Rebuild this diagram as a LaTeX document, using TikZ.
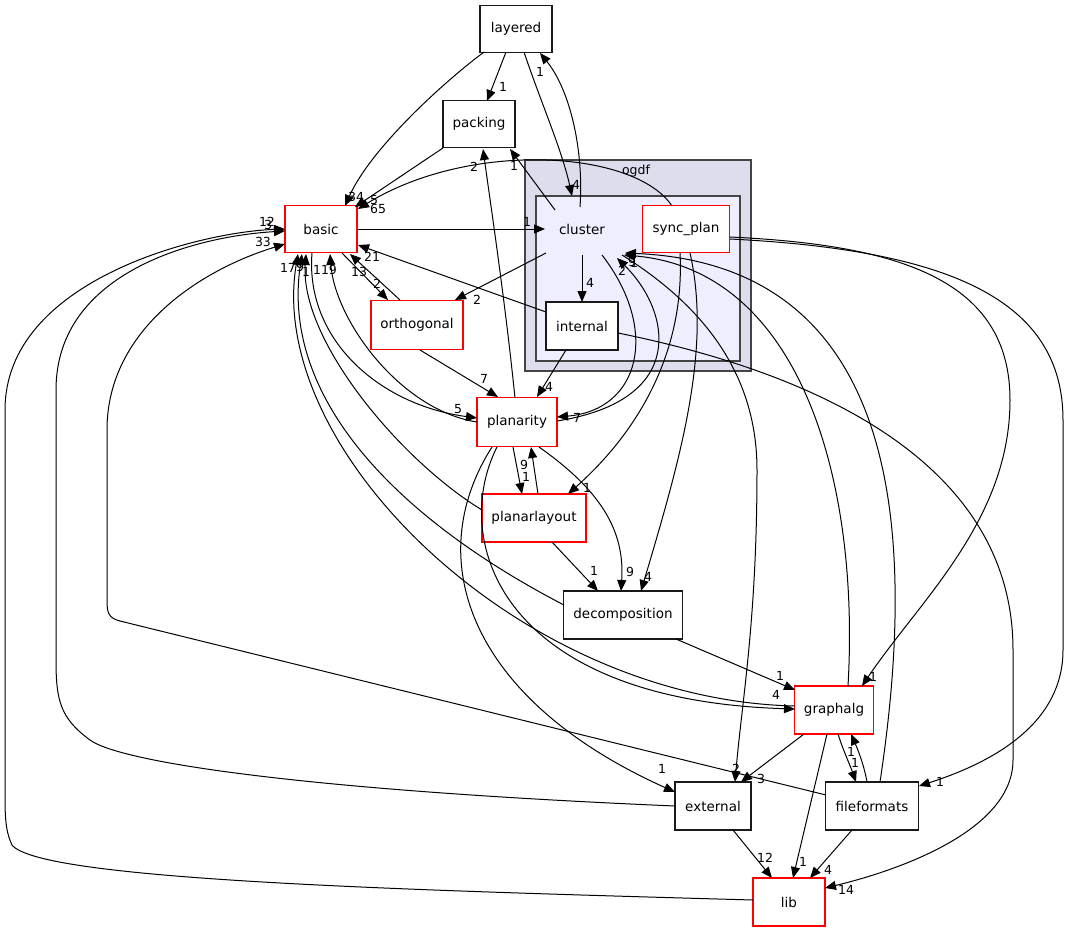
\documentclass[tikz,border=0pt]{standalone}
\usepackage{fontspec}
\setmainfont{DejaVu Sans}
\usetikzlibrary{arrows.meta,calc}
\definecolor{outerc}{HTML}{DDDDEE}
\definecolor{innerc}{HTML}{EEEEFF}
\definecolor{framec}{HTML}{444444}
\begin{document}
\begin{tikzpicture}[x=1pt,y=-1pt,
  dir/.style={draw=black!90,fill=white,line width=1.1pt,minimum height=47pt,inner sep=0pt,font=\fontsize{13.5}{15}\selectfont},
  rdir/.style={dir,draw=red,line width=1.3pt},
  lbl/.style={inner sep=0pt,font=\fontsize{12.5}{14}\selectfont},
  dep/.style={line width=1pt,-{Triangle[length=11pt,width=9pt]}}
]
\useasboundingbox (0,0) rectangle (1069,932);
% clusters
\draw[fill=outerc,draw=framec,line width=1.2pt] (525,160) rectangle (751,371);
\draw[fill=innerc,draw=framec,line width=1.2pt] (536,196) rectangle (740,361);
\node[lbl] (ogdflbl) at (636,171) {ogdf};
% nodes
\node[dir,minimum width=72pt] (L) at (516,29) {layered};
\node[dir,minimum width=72pt] (P) at (479,124) {packing};
\node[rdir,minimum width=72pt] (B) at (321,229) {basic};
\node[inner sep=0pt,font=\fontsize{13.5}{15}\selectfont] (C) at (582,229) {cluster};
\node[rdir,minimum width=87pt] (S) at (686,229) {sync\_plan};
\node[dir,minimum width=72pt,minimum height=48pt] (I) at (582,326) {internal};
\node[rdir,minimum width=92pt,minimum height=49pt] (O) at (417,325) {orthogonal};
\node[rdir,minimum width=80pt,minimum height=49pt] (PL) at (517,422) {planarity};
\node[rdir,minimum width=104pt,minimum height=48pt] (PY) at (534,518) {planarlayout};
\node[dir,minimum width=119pt,minimum height=48pt] (D) at (623,615) {decomposition};
\node[rdir,minimum width=79pt,minimum height=48pt] (G) at (834,710) {graphalg};
\node[dir,minimum width=76pt,minimum height=48pt] (E) at (713,806) {external};
\node[dir,minimum width=93pt,minimum height=48pt] (F) at (872,806) {fileformats};
\node[rdir,minimum width=72pt,minimum height=48pt] (Li) at (789,902) {lib};
% edges
\draw[dep] ($(L)+(-10,23)$) -- ($(P)+(8,-23)$);
\draw[dep] ($(L)+(-32,23)$) .. controls (440,85) and (370,150) .. ($(B)+(24,-23)$);
\draw[dep] ($(L)+(8,23)$) .. controls (540,100) and (562,150) .. ($(C)+(-10,-33)$);
\draw[dep] ($(C)+(-2,-22)$) .. controls (584,150) and (570,90) .. ($(L)+(24,24)$);
\draw[dep] ($(P)+(-36,24)$) -- ($(B)+(34,-22)$);
\draw[dep] ($(S)+(-14,-23)$) .. controls (635,150) and (470,140) .. ($(B)+(37,-20)$);
\draw[dep] ($(B)+(36,0)$) -- ($(C)+(-37,0)$);
\draw[dep] ($(C)+(-27,-19)$) -- ($(P)+(31,25)$);
\draw[dep] ($(PL)+(-2,-24)$) .. controls (505,300) and (490,200) .. ($(P)+(4,25)$);
\draw[dep] ($(C)+(-36,24)$) -- ($(O)+(38,-25)$);
\draw[dep] ($(C)+(0,26)$) -- ($(I)+(0,-24)$);
\draw[dep] ($(O)+(-17,-25)$) -- ($(B)+(29,25)$);
\draw[dep] ($(B)+(21,24)$) -- ($(O)+(-29,-25)$);
\draw[dep] ($(I)+(-36,-14)$) -- ($(B)+(37,16)$);
\draw[dep] ($(I)+(-16,24)$) -- ($(PL)+(20,-25)$);
\draw[dep] ($(O)+(3,25)$) -- ($(PL)+(-19,-25)$);
\draw[dep] ($(B)+(-9,24)$) .. controls (305,340) and (380,405) .. ($(PL)+(-40,-4)$);
\draw[dep] ($(PL)+(-40,0)$) .. controls (400,410) and (335,320) .. ($(B)+(9,25)$);
\draw[dep] ($(PY)+(-52,-8)$) .. controls (400,460) and (300,340) .. ($(B)+(-15,25)$);
\draw[dep] ($(D)+(-59,-10)$) .. controls (400,520) and (280,400) .. ($(B)+(-19,25)$);
\draw[dep] ($(G)+(-39,-4)$) .. controls (520,700) and (265,450) .. ($(B)+(-23,25)$);
\draw[dep] ($(PL)+(-20,25)$) .. controls (450,540) and (500,700) .. ($(G)+(-39,-1)$);
\draw[dep] ($(PL)+(-25,25)$) .. controls (420,560) and (470,700) .. ($(E)+(-38,-14)$);
\draw[dep] ($(PL)+(-4,25)$) -- ($(PY)+(-12,-24)$);
\draw[dep] ($(PY)+(4,-24)$) -- ($(PL)+(14,25)$);
\draw[dep] ($(S)+(-6,24)$) .. controls (685,350) and (640,430) .. ($(PY)+(34,-24)$);
\draw[dep] ($(S)+(4,24)$) .. controls (712,350) and (680,460) .. ($(D)+(18,-24)$);
\draw[dep] ($(PY)+(18,24)$) -- ($(D)+(-25,-24)$);
\draw[dep] ($(PL)+(22,25)$) .. controls (600,490) and (625,530) .. ($(D)+(-2,-24)$);
\draw[dep] ($(D)+(53,24)$) -- ($(G)+(-39,-20)$);
\draw[dep] ($(C)+(20,26)$) .. controls (660,330) and (640,410) .. ($(PL)+(40,-5)$);
\draw[dep] ($(PL)+(40,-1)$) .. controls (690,400) and (670,310) .. ($(C)+(35,29)$);
\draw[dep] ($(C)+(40,26)$) .. controls (710,310) and (757,380) .. (757,470) .. controls (757,620) and (742,700) .. ($(E)+(22,-24)$);
\draw[dep] ($(G)+(14,-24)$) .. controls (860,480) and (800,270) .. ($(C)+(42,26)$);
\draw[dep] ($(F)+(8,-24)$) .. controls (915,550) and (910,265) .. ($(C)+(43,24)$);
\draw[dep] ($(S)+(44,8)$) .. controls (900,245) and (1010,280) .. (1010,400) .. controls (1010,520) and (920,600) .. ($(G)+(28,-24)$);
\draw[dep] ($(S)+(44,10)$) .. controls (950,250) and (1063,300) .. (1063,420) -- (1063,650) .. controls (1063,720) and (1000,760) .. ($(F)+(47,-20)$);
\draw[dep] ($(I)+(36,7)$) .. controls (850,380) and (1013,480) .. (1013,650) -- (1013,760) .. controls (1013,830) and (900,870) .. ($(Li)+(36,-14)$);
\draw[dep] ($(G)+(-30,24)$) -- ($(E)+(28,-24)$);
\draw[dep] ($(G)+(4,24)$) .. controls (843,750) and (850,765) .. ($(F)+(-16,-24)$);
\draw[dep] ($(F)+(-5,-24)$) .. controls (864,765) and (858,750) .. ($(G)+(17,24)$);
\draw[dep] ($(G)+(-7,24)$) -- ($(Li)+(4,-24)$);
\draw[dep] ($(E)+(20,24)$) -- ($(Li)+(-17,-24)$);
\draw[dep] ($(F)+(-20,24)$) -- ($(Li)+(21,-24)$);
\draw[dep] ($(F)+(-46,-11)$) -- (120,621) .. controls (108,618) and (107,612) .. (107,600) -- (107,430) .. controls (107,330) and (200,270) .. ($(B)+(-36,15)$);
\draw[dep] ($(E)+(-38,0)$) .. controls (300,790) and (120,762) .. (90,740) .. controls (60,718) and (56,700) .. (56,660) -- (56,390) .. controls (56,270) and (200,236) .. ($(B)+(-36,2)$);
\draw[dep] ($(Li)+(-36,-2)$) .. controls (400,890) and (40,880) .. (12,845) .. controls (5,830) and (5,815) .. (5,790) -- (5,410) .. controls (5,280) and (200,232) .. ($(B)+(-36,0)$);
% labels
\node[lbl] (t1) at (503,87) {1};
\node[lbl] (t2) at (356,197) {34};
\node[lbl] (t3) at (576,185) {4};
\node[lbl] (t4) at (540,72) {1};
\node[lbl] (t5) at (374,200) {5};
\node[lbl] (t6) at (378,209) {65};
\node[lbl] (t7) at (527,222) {1};
\node[lbl] (t8) at (514,166) {1};
\node[lbl] (t9) at (474,167) {2};
\node[lbl] (t10) at (477,300) {2};
\node[lbl] (t11) at (590,283) {4};
\node[lbl] (t12) at (359,272) {13};
\node[lbl] (t13) at (377,284) {2};
\node[lbl] (t14) at (372,257) {21};
\node[lbl] (t15) at (549,387) {4};
\node[lbl] (t16) at (484,379) {7};
\node[lbl] (t17) at (458,409) {5};
\node[lbl] (t18) at (325,270) {119};
\node[lbl] (t19) at (288,268) {17};
\node[lbl] (t20) at (300,267) {9};
\node[lbl] (t21) at (306,272) {1};
\node[lbl] (t22) at (526,477) {1};
\node[lbl] (t23) at (524,465) {9};
\node[lbl] (t24) at (587,488) {1};
\node[lbl] (t25) at (648,577) {4};
\node[lbl] (t26) at (594,571) {1};
\node[lbl] (t27) at (630,572) {9};
\node[lbl] (t28) at (780,676) {1};
\node[lbl] (t29) at (776,695) {4};
\node[lbl] (t30) at (662,769) {1};
\node[lbl] (t31) at (736,769) {2};
\node[lbl] (t32) at (577,418) {7};
\node[lbl] (t33) at (622,271) {2};
\node[lbl] (t34) at (632,262) {9};
\node[lbl] (t35) at (634,263) {1};
\node[lbl] (t36) at (873,677) {1};
\node[lbl] (t37) at (940,782) {1};
\node[lbl] (t38) at (846,890) {14};
\node[lbl] (t39) at (761,779) {3};
\node[lbl] (t40) at (855,763) {1};
\node[lbl] (t41) at (851,752) {1};
\node[lbl] (t42) at (803,862) {1};
\node[lbl] (t43) at (765,858) {12};
\node[lbl] (t44) at (828,870) {4};
\node[lbl] (t45) at (263,242) {33};
\node[lbl] (t46) at (267,222) {12};
\node[lbl] (t47) at (268,225) {3};
\end{tikzpicture}
\end{document}
